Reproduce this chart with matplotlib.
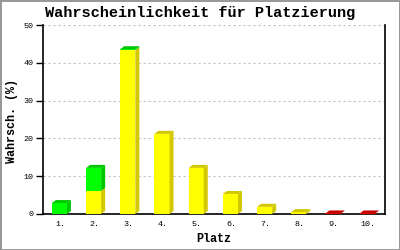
import matplotlib
matplotlib.use("Agg")
import matplotlib.pyplot as plt
from matplotlib.patches import Polygon

# Daten: Wahrscheinlichkeit je Platz (%)
plaetze = ["1.", "2.", "3.", "4.", "5.", "6.", "7.", "8.", "9.", "10."]
gelb = [0, 6.1, 43.3, 21.2, 12.2, 5.3, 1.9, 0.5, 0, 0]
gruen = [2.9, 6.1, 0.3, 0, 0, 0, 0, 0, 0, 0]
rot = [0, 0, 0, 0, 0, 0, 0, 0, 0.15, 0.15]
y_ticks = [0, 10, 20, 30, 40, 50]

# Farben (Vorderseite, Seite/Deckel)
farben = [("#ffff00", "#d2c800"), ("#00ff00", "#00c800"), ("#ff0000", "#c80000")]

FONT = "Liberation Mono"
W, H = 400, 250
fig = plt.figure(figsize=(4, 2.5), dpi=100)
fig.patch.set_edgecolor("#999999")
fig.patch.set_linewidth(2)

ax_l, ax_r, ax_b, ax_t = 43, 385, 214, 25
ax = fig.add_axes([ax_l / W, 1 - ax_b / H, (ax_r - ax_l) / W, (ax_b - ax_t) / H])
ax.set_xlim(-0.5, len(plaetze) - 0.5)
ax.set_ylim(0, 50)

# Tiefe der 3D-Balken in Pixeln -> Datenkoordinaten
dx = 4 * len(plaetze) / (ax_r - ax_l)
dy = 3 * 50 / (ax_b - ax_t)
breite = 0.44

for i in range(len(plaetze)):
    x0 = i - breite / 2 - 0.02
    x1 = x0 + breite
    unten = 0
    oben_farbe = None
    for werte, (vorne, seite) in zip([gelb, gruen, rot], farben):
        h = werte[i]
        if h <= 0:
            continue
        ax.bar(x0, h, bottom=unten, width=breite, align="edge",
               color=vorne, linewidth=0, zorder=3)
        ax.add_patch(Polygon([(x1, unten), (x1 + dx, unten + dy),
                              (x1 + dx, unten + h + dy), (x1, unten + h)],
                             closed=True, facecolor=seite, linewidth=0, zorder=3))
        unten += h
        oben_farbe = seite
    if oben_farbe:
        ax.add_patch(Polygon([(x0, unten), (x0 + dx, unten + dy),
                              (x1 + dx, unten + dy), (x1, unten)],
                             closed=True, facecolor=oben_farbe, linewidth=0, zorder=3))

ax.set_yticks(y_ticks)
ax.set_yticklabels([str(t) for t in y_ticks], fontfamily=FONT, fontsize=6)
ax.set_xticks(range(len(plaetze)))
ax.set_xticklabels(plaetze, fontfamily=FONT, fontsize=6)
ax.tick_params(axis="x", length=0, pad=5)
ax.tick_params(axis="y", length=5, width=1, pad=2)

ax.grid(axis="y", color="#c0c0c0", linestyle=(0, (2, 2.5)), linewidth=0.8, zorder=0)
ax.spines["top"].set_visible(False)
for s in ["left", "right", "bottom"]:
    ax.spines[s].set_linewidth(1.2)

fig.text(0.5, 1 - 13 / H, "Wahrscheinlichkeit für Platzierung", ha="center", va="center",
         fontfamily=FONT, fontweight="bold", fontsize=11)
fig.text(12 / W, 1 - 121 / H, "Wahrsch. (%)", ha="center", va="center", rotation=90,
         fontfamily=FONT, fontweight="bold", fontsize=8.5)
fig.text(214 / W, 1 - 239 / H, "Platz", ha="center", va="center",
         fontfamily=FONT, fontweight="bold", fontsize=8.5)

fig.savefig("out.png", dpi=100)
